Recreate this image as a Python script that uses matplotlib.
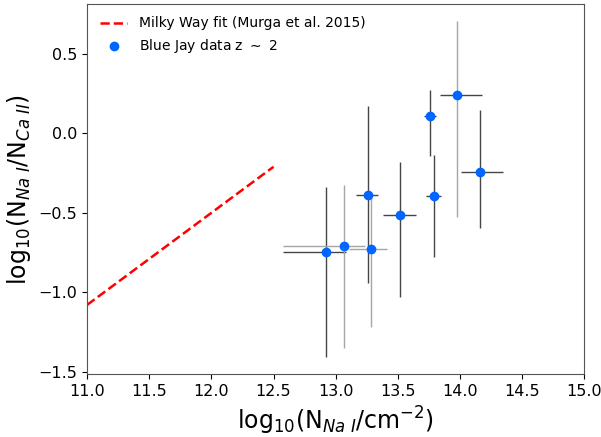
import matplotlib
matplotlib.use("Agg")
import matplotlib.pyplot as plt
import numpy as np

# Milky Way relation (Murga et al. 2015), drawn over the plotted range
mw_x = [11.0, 12.5]
mw_y = [-1.08, -0.21]

# Blue Jay measurements: log N(NaI), log N(NaI)/N(CaII), asymmetric errors
log_na = [12.92, 13.07, 13.26, 13.285, 13.52, 13.76, 13.79, 13.98, 14.16]
ratio = [-0.745, -0.71, -0.385, -0.73, -0.515, 0.11, -0.395, 0.24, -0.24]
x_lo = [0.34, 0.49, 0.10, 0.18, 0.14, 0.05, 0.06, 0.14, 0.15]
x_hi = [0.16, 0.17, 0.08, 0.13, 0.13, 0.05, 0.06, 0.20, 0.19]
y_lo = [0.665, 0.64, 0.56, 0.49, 0.515, 0.255, 0.385, 0.765, 0.355]
y_hi = [0.41, 0.385, 0.56, 0.35, 0.335, 0.165, 0.26, 0.47, 0.39]
light_y = [False, True, False, True, False, False, False, True, False]
light_x = [False, True, False, True, False, False, False, False, False]

DARK, LIGHT = "#454545", "#a6a6a6"
BLUE = "#0066ff"

fig, ax = plt.subplots(figsize=(6.01, 4.37), dpi=100)
fig.subplots_adjust(left=0.145, right=0.972, top=0.991, bottom=0.144)

ax.plot(mw_x, mw_y, "--", color="red", lw=1.8,
        label="Milky Way fit (Murga et al. 2015)")

for i in range(len(log_na)):
    ax.errorbar(log_na[i], ratio[i], yerr=[[y_lo[i]], [y_hi[i]]], fmt="none",
                ecolor=LIGHT if light_y[i] else DARK, elinewidth=1.0, zorder=2)
    ax.errorbar(log_na[i], ratio[i], xerr=[[x_lo[i]], [x_hi[i]]], fmt="none",
                ecolor=LIGHT if light_x[i] else DARK, elinewidth=1.0, zorder=2)

ax.plot(log_na, ratio, "o", color=BLUE, ms=6, zorder=3, ls="none",
        label=r"Blue Jay data z $\sim$ 2")

ax.set_xlim(11, 15)
ax.set_xlabel(r"log$_{10}$(N$_{Na\ I}$/cm$^{-2}$)", fontsize=17)
ax.set_ylabel(r"log$_{10}$(N$_{Na\ I}$/N$_{Ca\ II}$)", fontsize=17)
ax.tick_params(labelsize=11.5)
for s in ax.spines.values():
    s.set_color("#555555")

ax.legend(loc="upper left", frameon=False, fontsize=10)

plt.savefig("out.png", dpi=100)
